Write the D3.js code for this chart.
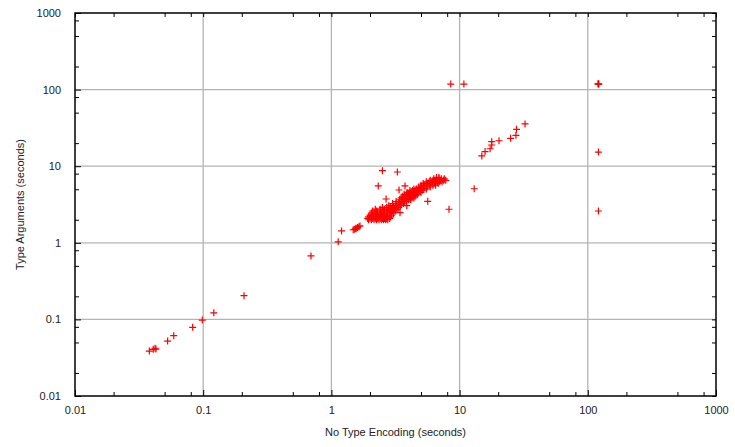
<!DOCTYPE html>
<html>
<head>
<meta charset="utf-8">
<script src="https://cdn.jsdelivr.net/npm/d3@7"></script>
<style>
  body { margin: 0; background: #fff; }
  text { font-family: "Liberation Sans", Arial, sans-serif; }
</style>
</head>
<body>
<svg id="chart" width="735" height="447"></svg>
<script>
// decade ticks and labels
var decades = [0.01, 0.1, 1, 10, 100, 1000];
var tickLabels = ["0.01", "0.1", "1", "10", "100", "1000"];
var minorSteps = [2, 5, 8];

// quick runs (< 1 s)
var smallRuns = [
  [0.038, 0.0386], [0.0408, 0.0407], [0.0421, 0.042], [0.0428, 0.041],
  [0.0528, 0.0522], [0.0589, 0.0613], [0.0828, 0.0788], [0.0984, 0.098],
  [0.121, 0.122], [0.208, 0.204], [0.693, 0.673]
];

// runs between 1 and 2 s
var midRuns = [
  [1.13, 1.03], [1.2, 1.43], [1.48, 1.48], [1.52, 1.5], [1.56, 1.55],
  [1.6, 1.58], [1.64, 1.62], [1.67, 1.66], [1.55, 1.52]
];

// main cluster, row by row (type arguments value, no type encoding values)
var clusterRows = [
  [2.0,  [1.95, 2.05, 2.15, 2.25, 2.35, 2.45, 2.55, 2.65, 2.75]],
  [2.08, [1.92, 2.0, 2.1, 2.2, 2.3, 2.4, 2.5, 2.6, 2.7, 2.85]],
  [2.18, [1.95, 2.05, 2.15, 2.25, 2.35, 2.45, 2.55, 2.7, 2.9]],
  [2.3,  [2.0, 2.1, 2.2, 2.3, 2.4, 2.5, 2.6, 2.75, 2.95]],
  [2.45, [2.05, 2.15, 2.3, 2.45, 2.6, 2.75, 2.9, 3.05]],
  [2.6,  [2.1, 2.25, 2.4, 2.55, 2.7, 2.85, 3.0, 3.15]],
  [2.75, [2.2, 2.4, 2.6, 2.8, 2.95, 3.1, 3.25]],
  [2.9,  [2.5, 2.7, 2.9, 3.05, 3.2, 3.35]],
  [3.05, [2.8, 3.0, 3.15, 3.3, 3.45]],
  [3.25, [3.0, 3.2, 3.35, 3.5, 3.65]],
  [3.45, [3.2, 3.4, 3.55, 3.7, 3.85]],
  [3.65, [3.4, 3.55, 3.7, 3.85, 4.0, 4.15]],
  [3.85, [3.5, 3.65, 3.8, 3.95, 4.1, 4.25, 4.4]],
  [4.05, [3.6, 3.75, 3.9, 4.05, 4.2, 4.35, 4.5]],
  [4.3,  [3.7, 3.85, 4.0, 4.15, 4.3, 4.5, 4.7]],
  [4.55, [3.9, 4.05, 4.2, 4.4, 4.6, 4.8, 5.0]],
  [4.8,  [4.1, 4.3, 4.5, 4.7, 4.9, 5.1]],
  [5.05, [4.4, 4.6, 4.8, 5.0, 5.2, 5.5]],
  [5.35, [4.8, 5.0, 5.3, 5.6, 5.9]],
  [5.65, [5.0, 5.3, 5.6, 5.9, 6.2, 6.5]],
  [5.95, [5.2, 5.5, 5.8, 6.1, 6.4, 6.8]],
  [6.25, [5.5, 5.8, 6.1, 6.4, 6.7, 7.0, 7.3]],
  [6.55, [5.9, 6.2, 6.5, 6.8, 7.1, 7.5, 7.8]],
  [6.85, [6.3, 6.6, 6.9, 7.2, 7.6]],
  [7.1,  [6.6, 6.9]]
];

// scattered runs near the cluster
var strayRuns = [
  [2.5, 8.73], [3.27, 8.4], [2.32, 5.52], [3.75, 5.52], [3.37, 4.89],
  [2.67, 3.73], [5.64, 3.48], [8.27, 2.74], [13.0, 5.08], [3.43, 2.47],
  [3.87, 3.05]
];

// slow runs (> 10 s) and timeouts at 120 s
var slowRuns = [
  [8.53, 118], [10.8, 118], [121, 118], [120, 119], [122, 118],
  [121, 15.3], [121, 2.6],
  [14.9, 13.6], [15.8, 15.5], [17.3, 16.9], [17.8, 18.9], [17.8, 20.9],
  [20.3, 21.5], [25.0, 23.1], [27.5, 25.3], [27.8, 30.3], [32.4, 35.6]
];

var points = [].concat(smallRuns, midRuns, strayRuns, slowRuns);
clusterRows.forEach(function (row) {
  row[1].forEach(function (x) { points.push([x, row[0]]); });
});

var svg = d3.select("#chart"),
    margin = {top: 13, right: 19, bottom: 51, left: 75},
    width = svg.attr("width") - margin.left - margin.right,
    height = svg.attr("height") - margin.top - margin.bottom;

var g = svg.append("g")
    .attr("transform", "translate(" + margin.left + "," + margin.top + ")");

var x = d3.scaleLog().domain([0.01, 1000]).range([0, width]);
var y = d3.scaleLog().domain([0.01, 1000]).range([height, 0]);

var minors = [];
decades.slice(0, -1).forEach(function (d) {
  minorSteps.forEach(function (m) { minors.push(d * m); });
});

// grid
g.append("g").selectAll("line")
    .data(decades.slice(1, -1))
    .enter().append("line")
    .attr("x1", d => x(d)).attr("x2", d => x(d))
    .attr("y1", 0).attr("y2", height)
    .attr("stroke", "#b4b4b4").attr("stroke-width", 1.3);

g.append("g").selectAll("line")
    .data(decades.slice(1, -1))
    .enter().append("line")
    .attr("y1", d => y(d)).attr("y2", d => y(d))
    .attr("x1", 0).attr("x2", width)
    .attr("stroke", "#b4b4b4").attr("stroke-width", 1.3);

// inward ticks on all four sides
function fmt(d) { return tickLabels[decades.indexOf(d)] || ""; }

var bottomAxis = g.append("g")
    .attr("transform", "translate(0," + height + ")")
    .call(d3.axisBottom(x).tickValues(decades).tickFormat(fmt).tickSizeInner(-6).tickSizeOuter(0).tickPadding(10));
var bottomMinor = g.append("g")
    .attr("transform", "translate(0," + height + ")")
    .call(d3.axisBottom(x).tickValues(minors).tickFormat("").tickSizeInner(-4).tickSizeOuter(0));
var topMinor = g.append("g")
    .call(d3.axisTop(x).tickValues(minors.concat(decades)).tickFormat("").tickSize(-4).tickSizeOuter(0));

var leftAxis = g.append("g")
    .call(d3.axisLeft(y).tickValues(decades).tickFormat(fmt).tickSizeInner(-6).tickSizeOuter(0).tickPadding(14));
var leftMinor = g.append("g")
    .call(d3.axisLeft(y).tickValues(minors).tickFormat("").tickSizeInner(-4).tickSizeOuter(0));
var rightMinor = g.append("g")
    .attr("transform", "translate(" + width + ",0)")
    .call(d3.axisRight(y).tickValues(minors.concat(decades)).tickFormat("").tickSize(-4).tickSizeOuter(0));

[bottomAxis, bottomMinor, topMinor, leftAxis, leftMinor, rightMinor].forEach(function (a) {
  a.select(".domain").remove();
  a.selectAll("line").attr("stroke", "#000").attr("stroke-width", 1);
  a.selectAll("text").attr("fill", "#222").style("font-size", "11px");
});

// frame
g.append("rect")
    .attr("width", width).attr("height", height)
    .attr("fill", "none").attr("stroke", "#000").attr("stroke-width", 1.5);

// points as + marks
g.append("g").selectAll("path")
    .data(points)
    .enter().append("path")
    .attr("d", function (d) {
      var cx = x(d[0]), cy = y(d[1]);
      return "M" + (cx - 3.5) + "," + cy + "H" + (cx + 3.5) +
             "M" + cx + "," + (cy - 3.5) + "V" + (cy + 3.5);
    })
    .attr("stroke", "#ff0000").attr("stroke-width", 1.2).attr("fill", "none");

// axis titles
g.append("text")
    .attr("text-anchor", "middle")
    .attr("x", width / 2)
    .attr("y", height + 40)
    .style("font-size", "11px").attr("fill", "#222")
    .text("No Type Encoding (seconds)");

g.append("text")
    .attr("text-anchor", "middle")
    .attr("transform", "rotate(-90)")
    .attr("x", -height / 2)
    .attr("y", -51)
    .style("font-size", "11px").attr("fill", "#222")
    .text("Type Arguments (seconds)");
</script>
</body>
</html>
